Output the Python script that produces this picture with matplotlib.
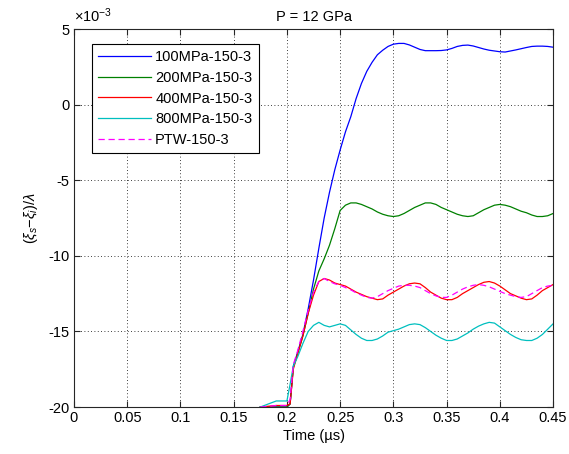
import numpy as np
import matplotlib
matplotlib.use("Agg")
import matplotlib.pyplot as plt
from matplotlib.ticker import FuncFormatter

plt.rcParams['font.family'] = ['Liberation Sans', 'DejaVu Sans']
plt.rcParams['font.size'] = 10.5
plt.rcParams['axes.unicode_minus'] = False
plt.rcParams['mathtext.fontset'] = 'custom'
plt.rcParams['mathtext.rm'] = 'Liberation Sans'
plt.rcParams['mathtext.it'] = 'Liberation Sans:italic'

# time samples (µs)
time_us = np.concatenate([[0.175, 0.19, 0.2, 0.203, 0.206],
                          np.round(np.arange(0.21, 0.4501, 0.005), 3)])

# (xi_s - xi_i)/lambda, in units of 1e-3
amp_100 = [-20, -20, -20, -19.8, -17.3,
           -16.4, -15.2, -13.5, -11.6, -9.5, -7.5, -5.8, -4.3, -3.0, -1.8,
           -0.8, 0.4, 1.4, 2.2, 2.8, 3.3, 3.6, 3.85, 4.0, 4.05,
           4.05, 3.95, 3.8, 3.65, 3.57, 3.57, 3.57, 3.58, 3.62, 3.72,
           3.85, 3.92, 3.94, 3.88, 3.78, 3.68, 3.6, 3.55, 3.5, 3.48,
           3.55, 3.62, 3.7, 3.78, 3.85, 3.87, 3.87, 3.85, 3.8]
amp_200 = [-20, -20, -20, -19.8, -17.4,
           -16.5, -15.3, -13.8, -12.2, -11.0, -10.2, -9.3, -8.2, -7.0, -6.65,
           -6.5, -6.5, -6.6, -6.75, -6.9, -7.1, -7.25, -7.35, -7.4, -7.35,
           -7.2, -7.0, -6.8, -6.65, -6.5, -6.5, -6.6, -6.8, -6.95, -7.1,
           -7.25, -7.35, -7.4, -7.35, -7.15, -6.95, -6.8, -6.65, -6.6, -6.65,
           -6.75, -6.9, -7.05, -7.15, -7.3, -7.4, -7.4, -7.35, -7.2]
amp_400 = [-20, -19.9, -19.9, -19.8, -17.5,
           -16.5, -15.3, -13.8, -12.6, -11.7, -11.5, -11.6, -11.8, -11.9, -12.0,
           -12.2, -12.4, -12.55, -12.7, -12.8, -12.9, -12.85, -12.6, -12.4, -12.2,
           -12.0, -11.85, -11.8, -11.85, -12.1, -12.4, -12.6, -12.8, -12.9, -12.9,
           -12.75, -12.5, -12.3, -12.1, -11.9, -11.75, -11.7, -11.8, -12.0, -12.25,
           -12.5, -12.65, -12.8, -12.9, -12.85, -12.6, -12.3, -12.1, -11.9]
amp_800 = [-20, -19.6, -19.6, -18.5, -17.3,
           -16.7, -15.8, -15.0, -14.6, -14.4, -14.6, -14.7, -14.6, -14.5, -14.6,
           -14.9, -15.2, -15.45, -15.6, -15.6, -15.5, -15.3, -15.05, -14.95, -14.85,
           -14.7, -14.55, -14.5, -14.55, -14.75, -15.0, -15.25, -15.45, -15.6, -15.6,
           -15.5, -15.3, -15.1, -14.85, -14.65, -14.5, -14.4, -14.45, -14.7, -14.95,
           -15.2, -15.4, -15.55, -15.6, -15.6, -15.45, -15.2, -14.85, -14.5]
amp_ptw = [-20, -19.9, -19.9, -19.5, -17.2,
           -16.3, -15.0, -13.6, -12.4, -11.7, -11.5, -11.7, -11.85, -11.95, -12.1,
           -12.25, -12.45, -12.6, -12.75, -12.8, -12.7, -12.5, -12.3, -12.15, -12.0,
           -11.95, -11.95, -12.0, -12.1, -12.3, -12.5, -12.65, -12.75, -12.75, -12.6,
           -12.4, -12.2, -12.05, -11.95, -11.9, -11.95, -12.05, -12.2, -12.35, -12.5,
           -12.6, -12.7, -12.75, -12.7, -12.5, -12.3, -12.1, -12.0, -11.95]

labels = ['100MPa-150-3', '200MPa-150-3', '400MPa-150-3', '800MPa-150-3', 'PTW-150-3']
series = [amp_100, amp_200, amp_400, amp_800, amp_ptw]
colors = ['#0000ff', '#008000', '#ff0000', '#00bfbf', '#ff00ff']
styles = ['-', '-', '-', '-', '--']

fig = plt.figure(figsize=(5.69, 4.54), dpi=100)
ax = fig.add_axes([0.130, 0.1035, 0.842, 0.8325])

for vals, lab, c, ls in zip(series, labels, colors, styles):
    kw = dict(dashes=(5, 3)) if ls == '--' else {}
    ax.plot(time_us, np.array(vals) * 1e-3, color=c, ls=ls, lw=0.9,
            label=lab, **kw)

ax.set_xlim(0, 0.45)
ax.set_ylim(-0.020, 0.005)
ax.set_xticks(np.arange(0, 0.4501, 0.05))
ax.set_xticklabels(['0', '0.05', '0.1', '0.15', '0.2', '0.25', '0.3', '0.35', '0.4', '0.45'])
ax.set_yticks(np.arange(-0.020, 0.0051, 0.005))
ax.yaxis.set_major_formatter(FuncFormatter(lambda v, p: '%d' % round(v * 1e3)))
ax.text(0.0, 1.012, r'$\times\mathregular{10^{-3}}$', transform=ax.transAxes,
        ha='left', va='bottom', fontsize=10.5)

ax.tick_params(direction='in', top=True, right=True, length=4, width=0.8,
               colors='#262626', labelcolor='black', pad=3)
for s in ax.spines.values():
    s.set_linewidth(0.8)
    s.set_color('#262626')
ax.grid(True, color='black', linestyle=(0, (1, 3)), linewidth=0.6)

ax.set_title('P = 12 GPa', fontsize=10.5, pad=6)
ax.set_xlabel('Time (\u00b5s)', labelpad=3)
ax.set_ylabel(r'$(\xi_s\mathregular{-}\xi_i)/\lambda$', labelpad=6)

leg = ax.legend(loc='upper left', bbox_to_anchor=(0.022, 0.98), fancybox=False,
                edgecolor='black', framealpha=1, handlelength=3.6,
                borderpad=0.45, labelspacing=0.45, handletextpad=0.3)
leg.get_frame().set_linewidth(0.8)

fig.savefig('out.png', dpi=100)
